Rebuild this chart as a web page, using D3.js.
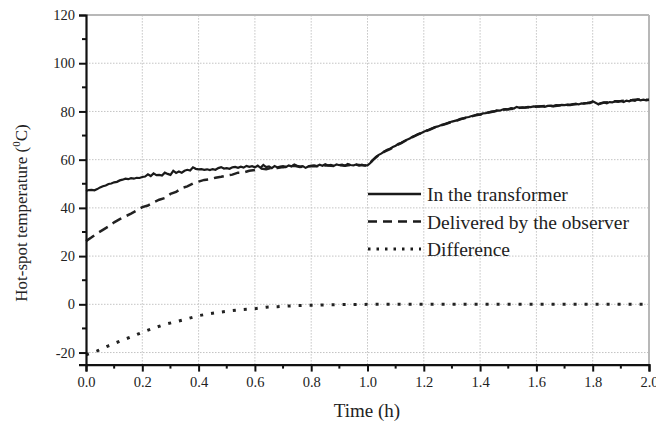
<!DOCTYPE html>
<html>
<head>
<meta charset="utf-8">
<script src="https://cdn.jsdelivr.net/npm/d3@7"></script>
<style>
  body { margin: 0; background: #fff; }
  svg text { font-family: "Liberation Serif", "Times New Roman", serif; fill: #222; }
</style>
</head>
<body>
<svg id="chart" width="656" height="423"></svg>
<script>
// sampling step of the measured curves (hours)
const transformerStep = 0.01;
const observerStep = 0.02;

// hot-spot temperature in the transformer, 0..2 h
const transformerTemp = [
  47.0, 47.4, 47.5, 47.3, 47.8, 48.5, 49.0, 49.3, 49.9, 50.1,
  50.6, 50.8, 51.4, 51.7, 52.1, 51.9, 52.3, 52.1, 52.5, 52.4,
  52.8, 53.0, 53.9, 53.2, 54.3, 53.6, 53.7, 53.4, 54.6, 54.1,
  53.7, 55.4, 54.5, 55.1, 54.6, 55.4, 55.8, 55.5, 56.8, 56.2,
  56.0, 56.1, 55.8, 56.0, 55.7, 56.1, 55.8, 56.5, 56.9, 56.3,
  56.5, 56.2, 56.8, 57.0, 56.6, 57.1, 56.7, 57.4, 57.0, 57.3,
  56.8, 57.5, 56.6, 57.8, 56.9, 57.2, 56.5, 57.4, 56.8, 57.1,
  57.3, 56.9, 57.6, 57.2, 58.0, 57.5, 57.1, 57.3, 56.6, 57.2,
  57.4, 57.6, 57.3, 57.9, 57.5, 58.1, 57.6, 57.8, 57.4, 58.0,
  57.7, 57.9, 57.5, 58.2, 57.8, 57.6, 58.0, 57.5, 57.9, 57.6,
  57.6, 58.6, 60.0, 61.2, 62.0, 62.6, 63.4, 64.1, 64.5, 65.3,
  65.8, 66.6, 67.0, 67.7, 68.3, 68.8, 69.5, 70.0, 70.6, 71.0,
  71.6, 72.1, 72.5, 73.0, 73.5, 73.8, 74.3, 74.6, 75.0, 75.4,
  75.8, 76.1, 76.4, 76.9, 77.1, 77.5, 77.7, 78.1, 78.3, 78.8,
  78.7, 79.2, 79.3, 79.6, 79.9, 80.0, 80.4, 80.3, 80.8, 81.0,
  80.9, 81.4, 81.2, 81.9, 81.5, 81.7, 81.6, 81.9, 81.8, 82.1,
  82.0, 82.0, 82.2, 81.9, 82.3, 82.4, 82.2, 82.6, 82.5, 82.7,
  82.6, 82.8, 82.7, 83.0, 83.1, 82.9, 83.3, 83.2, 83.5, 83.4,
  84.2, 83.6, 83.0, 83.5, 83.7, 83.4, 83.9, 83.8, 84.2, 84.0,
  84.3, 83.9, 84.5, 84.2, 84.7, 84.4, 85.0, 84.6, 84.9, 84.6,
  84.8
];

// temperature delivered by the observer, 0..2 h
const observerTemp = [
  26.2, 27.8, 29.5, 30.9, 32.3, 34.0, 35.3, 36.5, 37.6, 38.9,
  40.3, 41.0, 42.3, 43.4, 44.1, 45.8, 46.6, 48.2, 48.9, 50.1,
  50.9, 51.6, 51.9, 52.5, 52.9, 53.4, 53.8, 54.6, 54.7, 55.4,
  55.7, 56.3, 56.0, 56.6, 56.5, 56.9, 57.2, 57.5, 57.0, 57.1,
  57.4, 57.3, 57.5, 57.6, 57.4, 57.7, 57.5, 57.8, 57.9, 57.7,
  57.6, 59.9, 61.9, 63.3, 64.4, 65.7, 66.9, 68.2, 69.4, 70.5,
  71.5, 72.4, 73.4, 74.2, 74.9, 75.7, 76.3, 77.1, 77.6, 78.3,
  78.7, 79.3, 79.8, 80.3, 80.7, 80.9, 81.2, 81.5, 81.6, 81.8,
  82.0, 82.2, 82.3, 82.2, 82.5, 82.6, 82.7, 83.1, 83.3, 83.5,
  83.9, 83.0, 83.7, 83.9, 84.2, 84.3, 84.5, 84.7, 85.0, 84.9,
  84.8
];

// difference observer - transformer
const differenceTime = [0.00, 0.04, 0.08, 0.12, 0.16, 0.20, 0.24, 0.28, 0.32, 0.36,
  0.40, 0.44, 0.48, 0.52, 0.56, 0.60, 0.64, 0.68, 0.72, 0.76,
  0.80, 0.84, 0.88, 0.92, 0.96, 1.00, 1.50, 2.00];
const differenceTemp = [-20.9, -19.3, -17.2, -15.3, -13.5, -11.6, -9.9, -8.3, -7.2, -6.0,
  -4.7, -3.9, -3.2, -2.6, -2.1, -1.8, -1.2, -1.0, -0.7, -0.5,
  -0.4, -0.3, -0.2, -0.1, -0.1, 0.0, 0.0, 0.0];

const xTicks = [0.0, 0.2, 0.4, 0.6, 0.8, 1.0, 1.2, 1.4, 1.6, 1.8, 2.0];
const xMinor = [0.1, 0.3, 0.5, 0.7, 0.9, 1.1, 1.3, 1.5, 1.7, 1.9];
const yTicks = [-20, 0, 20, 40, 60, 80, 100, 120];
const yMinor = [-10, 10, 30, 50, 70, 90, 110];

const legendLabels = ["In the transformer", "Delivered by the observer", "Difference"];
const legendDash = [null, "9,6", "2.5,6"];

const svg = d3.select("#chart");

const x = d3.scaleLinear().domain([0, 2]).range([86, 649]);
const y = d3.scaleLinear().domain([-25, 120]).range([364.6, 15]);

// grid
const grid = svg.append("g");
grid.selectAll(".vg").data(xTicks.slice(1, -1)).enter().append("line")
  .attr("x1", d => x(d)).attr("x2", d => x(d))
  .attr("y1", y(-25)).attr("y2", y(120))
  .attr("stroke", "#c4c4c4").attr("stroke-width", 1).attr("stroke-dasharray", "1.5,1.5");
grid.selectAll(".hg").data(yTicks.slice(0, -1)).enter().append("line")
  .attr("x1", x(0)).attr("x2", x(2))
  .attr("y1", d => y(d)).attr("y2", d => y(d))
  .attr("stroke", "#c4c4c4").attr("stroke-width", 1).attr("stroke-dasharray", "1.5,1.5");

// top and right frame
svg.append("line").attr("x1", x(0)).attr("x2", x(2)).attr("y1", y(120)).attr("y2", y(120))
  .attr("stroke", "#b8b8b8").attr("stroke-width", 2);
svg.append("line").attr("x1", x(2)).attr("x2", x(2)).attr("y1", y(120)).attr("y2", y(-25))
  .attr("stroke", "#b8b8b8").attr("stroke-width", 2);

// curves
const line = d3.line().x(d => x(d[0])).y(d => y(d[1]));
const transformerData = transformerTemp.map((v, i) => [i * transformerStep, v]);
const observerData = observerTemp.map((v, i) => [i * observerStep, v]);
const differenceData = differenceTime.map((t, i) => [t, differenceTemp[i]]);

svg.append("path").datum(differenceData).attr("d", line)
  .attr("fill", "none").attr("stroke", "#222").attr("stroke-width", 3)
  .attr("stroke-dasharray", "3,8");
svg.append("path").datum(observerData).attr("d", line)
  .attr("fill", "none").attr("stroke", "#222").attr("stroke-width", 2.5)
  .attr("stroke-dasharray", "10,6");
svg.append("path").datum(transformerData).attr("d", line)
  .attr("fill", "none").attr("stroke", "#1a1a1a").attr("stroke-width", 2.2);

// axes
const xAxis = d3.axisBottom(x).tickValues(xTicks).tickSize(7).tickPadding(5)
  .tickFormat(d3.format(".1f"));
const gx = svg.append("g").attr("transform", `translate(0,${y(-25)})`).call(xAxis);
gx.selectAll(".tick text").attr("font-size", 14.5).style("font-family", "Liberation Serif");
gx.append("g").selectAll("line").data(xMinor).enter().append("line")
  .attr("x1", d => x(d)).attr("x2", d => x(d)).attr("y1", 0).attr("y2", 4)
  .attr("stroke", "#111").attr("stroke-width", 2);

const yAxis = d3.axisLeft(y).tickValues(yTicks).tickSize(7).tickPadding(4)
  .tickFormat(d => String(d));
const gy = svg.append("g").attr("transform", `translate(${x(0)},0)`).call(yAxis);
gy.selectAll(".tick text").attr("font-size", 14.5).style("font-family", "Liberation Serif");
gy.append("g").selectAll("line").data(yMinor).enter().append("line")
  .attr("x1", 0).attr("x2", -4).attr("y1", d => y(d)).attr("y2", d => y(d))
  .attr("stroke", "#111").attr("stroke-width", 2);

[gx, gy].forEach(g => {
  g.select(".domain").attr("stroke", "#111").attr("stroke-width", 2.2);
  g.selectAll(".tick line").attr("stroke", "#111").attr("stroke-width", 2);
  g.attr("font-family", null);
});

// axis titles
svg.append("text").attr("x", 367).attr("y", 417).attr("text-anchor", "middle")
  .attr("font-size", 19).text("Time (h)");
const yl = svg.append("text").attr("transform", "translate(27,213) rotate(-90)")
  .attr("text-anchor", "middle").attr("font-size", 17);
yl.append("tspan").text("Hot-spot temperature (");
yl.append("tspan").attr("font-size", 11).attr("dy", -7).text("0");
yl.append("tspan").attr("dy", 7).text("C)");

// legend
const legend = svg.append("g");
legendLabels.forEach((lab, i) => {
  const ly = 194 + i * 27.5;
  const ln = legend.append("line").attr("x1", 368).attr("x2", 421).attr("y1", ly).attr("y2", ly)
    .attr("stroke", "#1a1a1a").attr("stroke-width", i === 2 ? 3 : 2.4);
  if (legendDash[i]) ln.attr("stroke-dasharray", legendDash[i]);
  legend.append("text").attr("x", 427).attr("y", ly + 7).attr("font-size", 19.5).text(lab);
});
</script>
</body>
</html>
